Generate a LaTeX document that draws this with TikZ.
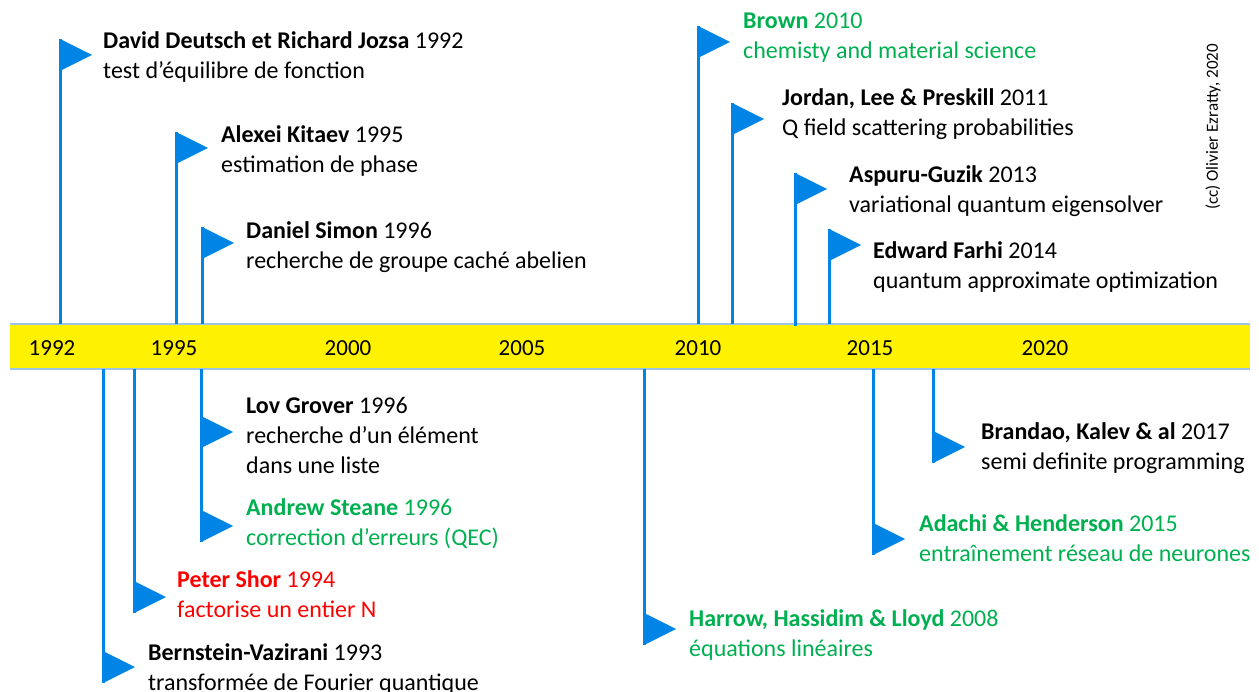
\documentclass[tikz,border=0pt]{standalone}
\usepackage{fontspec}
\setmainfont{Carlito}
\definecolor{flagblue}{RGB}{0,133,230}
\definecolor{qgreen}{RGB}{0,176,80}
\definecolor{barblue}{RGB}{157,195,230}
\newcommand\topflag[3]{%
  \coordinate (#1) at (#2,#3);
  \fill[flagblue] (#1) -- ++(32,16) -- ++(-32,16) -- cycle;
  \draw[pole] (#1) -- (#1 |- bartop);}
\newcommand\botflag[3]{%
  \coordinate (#1) at (#2,#3);
  \fill[flagblue] (#1) -- ++(32,-16) -- ++(-32,-16) -- cycle;
  \draw[pole] (#1) -- (#1 |- barbot);}
\begin{document}
\begin{tikzpicture}[x=1pt,y=-1pt,
  pole/.style={draw=flagblue,line width=3pt},
  lbl/.style={anchor=base west,inner sep=0pt,align=left,font=\fontsize{24}{30}\selectfont},
  yr/.style={anchor=base,inner sep=0pt,font=\fontsize{23}{26}\selectfont}]
\useasboundingbox (0,0) rectangle (1259,692);
\fill[yellow] (10,324) rectangle (1250,369);
\draw[barblue,line width=2pt] (10,324) -- (1250,324) (10,369) -- (1250,369);
\coordinate (bartop) at (0,324);
\coordinate (barbot) at (0,369);
% years
\node[yr] (y1992) at (52,356) {1992};
\node[yr] (y1995) at (174,356) {1995};
\node[yr] (y2000) at (348,356) {2000};
\node[yr] (y2005) at (522,356) {2005};
\node[yr] (y2010) at (698,356) {2010};
\node[yr] (y2015) at (870,356) {2015};
\node[yr] (y2020) at (1045,356) {2020};
% top flags (node base = baseline of last line)
\topflag{fdeutsch}{60}{39}
\node[lbl] (tdeutsch) at (103,79) {\textbf{David Deutsch et Richard Jozsa} 1992\\test d’équilibre de fonction};
\topflag{fkitaev}{176}{132}
\node[lbl] (tkitaev) at (221,173) {\textbf{Alexei Kitaev} 1995\\estimation de phase};
\topflag{fsimon}{202}{227}
\node[lbl] (tsimon) at (246,269) {\textbf{Daniel Simon} 1996\\recherche de groupe caché abelien};
\topflag{fbrown}{698}{26}
\node[lbl,text=qgreen] (tbrown) at (743,59) {\textbf{Brown} 2010\\chemisty and material science};
\topflag{fjordan}{732}{103}
\node[lbl] (tjordan) at (782,136) {\textbf{Jordan, Lee \& Preskill} 2011\\Q field scattering probabilities};
\coordinate (fasp) at (795,173);
\fill[flagblue] (fasp) -- ++(32,16) -- ++(-32,16) -- cycle;
\draw[pole] (fasp) -- ++(0,153);
\node[lbl] (tasp) at (849,213) {\textbf{Aspuru-Guzik} 2013\\variational quantum eigensolver};
\topflag{ffarhi}{829}{229}
\node[lbl] (tfarhi) at (873,289) {\textbf{Edward Farhi} 2014\\quantum approximate optimization};
% bottom flags
\botflag{fbv}{103}{683}
\node[lbl] (tbv) at (148,690) {\textbf{Bernstein-Vazirani} 1993\\transformée de Fourier quantique};
\botflag{fshor}{134}{613}
\node[lbl,text=red] (tshor) at (177,617) {\textbf{Peter Shor} 1994\\factorise un entier N};
\botflag{fsteane}{201}{542}
\node[lbl,text=qgreen] (tsteane) at (246,545) {\textbf{Andrew Steane} 1996\\correction d’erreurs (QEC)};
\botflag{fgrover}{201}{448}
\node[lbl] (tgrover) at (246,474) {\textbf{Lov Grover} 1996\\recherche d’un élément\\dans une liste};
\botflag{fharrow}{644}{645}
\node[lbl,text=qgreen] (tharrow) at (689,656) {\textbf{Harrow, Hassidim \& Lloyd} 2008\\équations linéaires};
\botflag{fadachi}{873}{555}
\node[lbl,text=qgreen] (tadachi) at (919,561) {\textbf{Adachi \& Henderson} 2015\\entraînement réseau de neurones};
\botflag{fbrandao}{933}{463}
\node[lbl] (tbrandao) at (981,470) {\textbf{Brandao, Kalev \& al} 2017\\semi definite programming};
% copyright
\node[rotate=90,inner sep=0pt,font=\fontsize{17}{20}\selectfont] (cc) at (1213,127) {(cc) Olivier Ezratty, 2020};
\end{tikzpicture}
\end{document}
